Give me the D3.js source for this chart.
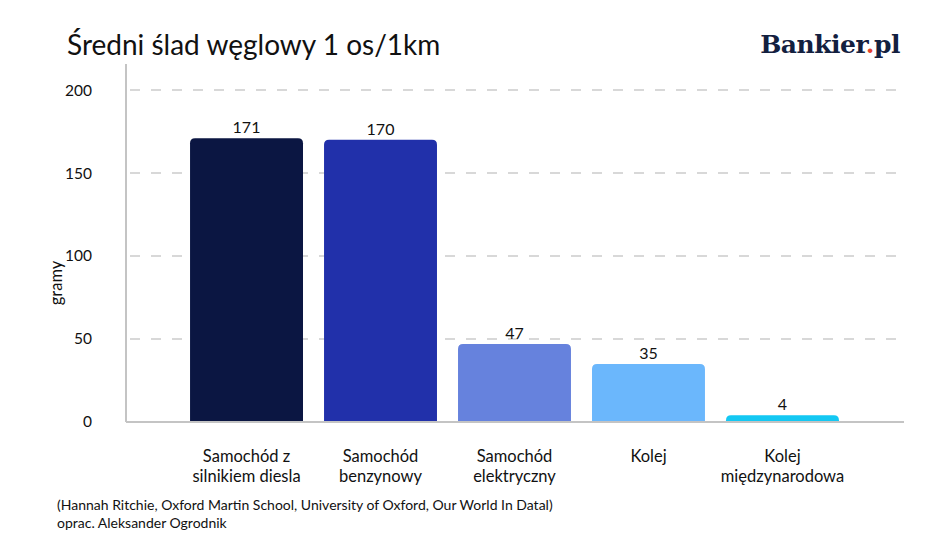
<!DOCTYPE html>
<html>
<head>
<meta charset="utf-8">
<script src="https://cdn.jsdelivr.net/npm/d3@7"></script>
<style>
  html, body { margin: 0; padding: 0; background: #fff; }
  svg { display: block; font-family: "Lato", "Noto Sans", sans-serif; }
</style>
</head>
<body>
<div id="myPlot"></div>
<script>
// chart data
var categories = [
    ["Samochód z", "silnikiem diesla"],
    ["Samochód", "benzynowy"],
    ["Samochód", "elektryczny"],
    ["Kolej"],
    ["Kolej", "międzynarodowa"]
];
var values = [171, 170, 47, 35, 4];
var barColors = ["#0b1642", "#2130aa", "#6682dd", "#6bb7fc", "#14c8f3"];
var yTicks = [0, 50, 100, 150, 200];

var svgWidth = 948;
var svgHeight = 556;

var margin = { top: 64, right: 45, bottom: 134, left: 126 };
var innerWidth = svgWidth - margin.left - margin.right;
var innerHeight = svgHeight - margin.top - margin.bottom;

var svg = d3.select("#myPlot")
    .append("svg")
    .attr("width", svgWidth)
    .attr("height", svgHeight)
    .attr("viewBox", `0 0 ${svgWidth} ${svgHeight}`);

var g = svg.append("g")
    .attr("transform", `translate(${margin.left}, ${margin.top})`);

var xScale = d3.scaleBand()
    .domain(d3.range(values.length))
    .range([0, innerWidth])
    .paddingInner(0.157)
    .paddingOuter(0.478);

var yScale = d3.scaleLinear()
    .domain([0, 215.7])
    .range([innerHeight, 0]);

// dashed gridlines
g.selectAll(".grid")
    .data(yTicks.filter(d => d > 0))
    .enter().append("line")
    .attr("x1", 4)
    .attr("x2", innerWidth - 5)
    .attr("y1", d => yScale(d))
    .attr("y2", d => yScale(d))
    .attr("stroke", "#cccccc")
    .attr("stroke-width", 1.5)
    .attr("stroke-dasharray", "10,11");

// y axis labels
var yAxis = d3.axisLeft(yScale).tickValues(yTicks).tickSize(0).tickPadding(34);
var yg = g.append("g").call(yAxis);
yg.select(".domain").remove();
yg.selectAll("text")
    .style("font-family", "Lato, sans-serif")
    .style("font-size", "15.5px")
    .attr("fill", "#111");

// bars with rounded tops
function barPath(x, y, w, h, r) {
    r = Math.min(r, h);
    return `M${x},${y + h}V${y + r}Q${x},${y} ${x + r},${y}H${x + w - r}Q${x + w},${y} ${x + w},${y + r}V${y + h}Z`;
}

g.selectAll(".bar")
    .data(values)
    .enter().append("path")
    .attr("class", "bar")
    .attr("d", (d, i) => barPath(xScale(i), yScale(d), xScale.bandwidth(), innerHeight - yScale(d), 5))
    .attr("fill", (d, i) => barColors[i]);

g.selectAll(".val")
    .data(values)
    .enter().append("text")
    .attr("x", (d, i) => xScale(i) + xScale.bandwidth() / 2)
    .attr("y", d => yScale(d) - 5)
    .attr("text-anchor", "middle")
    .style("font-size", "16px")
    .attr("fill", "#111")
    .text(d => d);

// axis lines
g.append("line")
    .attr("x1", 0).attr("x2", 0)
    .attr("y1", 0).attr("y2", innerHeight)
    .attr("stroke", "#c4c4c4").attr("stroke-width", 2);
g.append("line")
    .attr("x1", 0).attr("x2", innerWidth + 1)
    .attr("y1", innerHeight).attr("y2", innerHeight)
    .attr("stroke", "#c4c4c4").attr("stroke-width", 2);

// category labels
var cat = g.selectAll(".cat")
    .data(categories)
    .enter().append("text")
    .attr("text-anchor", "middle")
    .attr("transform", (d, i) => `translate(${xScale(i) + xScale.bandwidth() / 2}, ${innerHeight + 40})`)
    .style("font-size", "16.5px")
    .attr("fill", "#111");
cat.selectAll("tspan")
    .data(d => d)
    .enter().append("tspan")
    .attr("x", 0)
    .attr("dy", (d, i) => i === 0 ? 0 : 20)
    .text(d => d);

// y label
svg.append("text")
    .attr("transform", "translate(62, 283) rotate(-90)")
    .attr("text-anchor", "middle")
    .style("font-size", "16.5px")
    .attr("fill", "#111")
    .text("gramy");

// title
svg.append("text")
    .attr("x", 67)
    .attr("y", 55)
    .style("font-size", "28px")
    .attr("fill", "#111")
    .text("Średni ślad węglowy 1 os/1km");

// logo
var logo = svg.append("text")
    .attr("x", 900)
    .attr("y", 53)
    .attr("text-anchor", "end")
    .style("font-family", "'DejaVu Serif', serif")
    .style("font-weight", "bold")
    .style("font-size", "25px")
    .style("letter-spacing", "-0.5px")
    .attr("fill", "#13203f");
logo.append("tspan").text("Bankier");
logo.append("tspan").attr("fill", "#e5412d").text(".");
logo.append("tspan").text("pl");

// source
svg.append("text")
    .attr("x", 57)
    .attr("y", 510)
    .style("font-size", "14px")
    .attr("fill", "#111")
    .text("(Hannah Ritchie, Oxford Martin School, University of Oxford, Our World In Datal)");
svg.append("text")
    .attr("x", 57)
    .attr("y", 528)
    .style("font-size", "14px")
    .attr("fill", "#111")
    .text("oprac. Aleksander Ogrodnik");
</script>
</body>
</html>
